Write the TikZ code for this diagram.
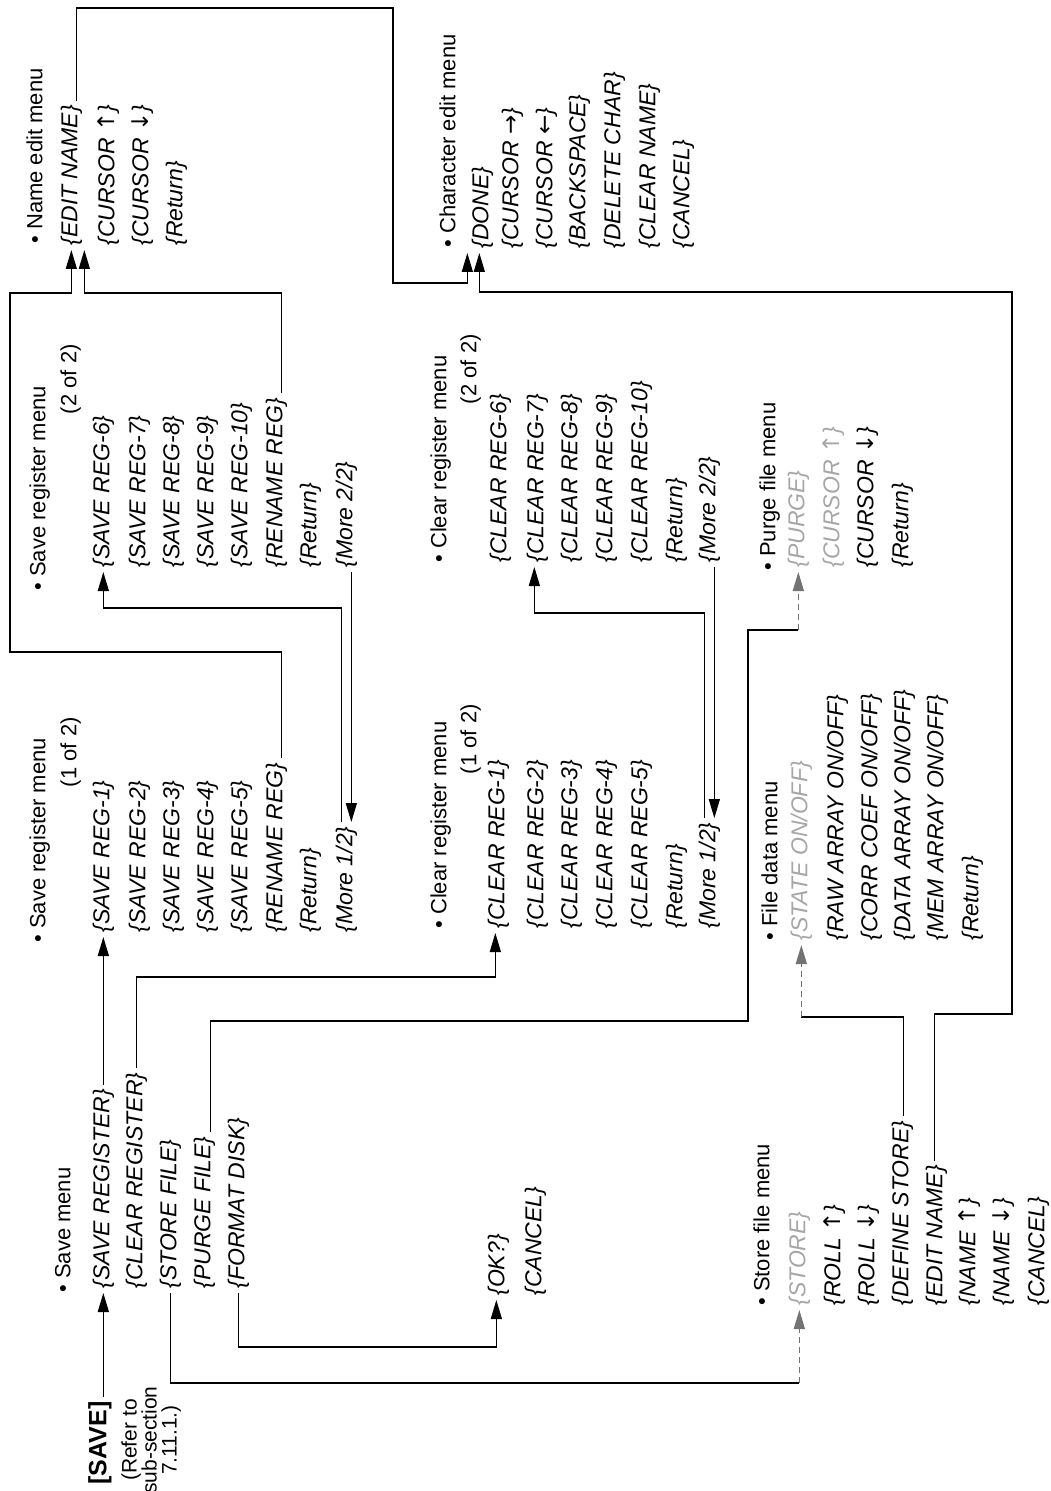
\documentclass[tikz,border=0pt]{standalone}
\usepackage{fontspec}
\setmainfont{Liberation Sans}
\newfontfamily\arrf{DejaVu Sans}
\usetikzlibrary{arrows.meta,calc}
\newcommand{\myit}{\fontsize{11.5}{13}\selectfont\itshape}
\newcommand{\mytitle}{\fontsize{11}{13}\selectfont}
\newcommand{\mykey}{\fontsize{12.5}{14}\selectfont\bfseries}
\newcommand{\myref}{\fontsize{10.5}{10}\selectfont}
\newcommand{\ua}{{\arrf\upshape ↑}}
\newcommand{\da}{{\arrf\upshape ↓}}
\newcommand{\ra}{{\arrf\upshape →}}
\newcommand{\la}{{\arrf\upshape ←}}
\begin{document}
\begin{tikzpicture}[x=0.5pt,y=-0.5pt,
  txt/.style={rotate=90, anchor=mid west, inner sep=2pt},
  ttl/.style={txt, font=\mytitle},
  itm/.style={txt, font=\myit},
  pg/.style={rotate=90, anchor=mid east, inner sep=2pt, font=\mytitle},
  fnt/.style={text=black!35},
  conn/.style={line width=0.7pt},
  arr/.style={conn, -{Triangle[length=9.5pt,width=5.5pt]}},
  farr/.style={arr, black!55, densely dashed}]
\useasboundingbox (0,0) rectangle (1050,1491);

% ---------- Save key and Save menu ----------
\node[rotate=90, inner sep=2pt, font=\mykey] (save) at (100,1443) {[SAVE]};
\node[rotate=90, anchor=north, inner sep=0pt, align=center, font=\myref] (refer) at (121,1440) {(Refer to\\sub-section\\7.11.1.)};

\node[ttl] (smt) at (65,1297) {• Save menu};
\node[itm] (sm1) at (104,1293) {\{SAVE REGISTER\}};
\node[itm] (sm2) at (137,1293) {\{CLEAR REGISTER\}};
\node[itm] (sm3) at (171,1293) {\{STORE FILE\}};
\node[itm] (sm4) at (205,1293) {\{PURGE FILE\}};
\node[itm] (sm5) at (239,1293) {\{FORMAT DISK\}};

% ---------- OK? ----------
\node[itm] (ok) at (499,1300) {\{OK?\}};
\node[itm] (okc) at (536,1300) {\{CANCEL\}};

% ---------- Store file menu ----------
\node[ttl] (sft) at (764,1310) {• Store file menu};
\node[itm,fnt] (sf1) at (800,1310) {\{STORE\}};
\node[itm] (sf2) at (835,1310) {\{ROLL \ua\}};
\node[itm] (sf3) at (869,1310) {\{ROLL \da\}};
\node[itm] (sf4) at (903,1310) {\{DEFINE STORE\}};
\node[itm] (sf5) at (937,1310) {\{EDIT NAME\}};
\node[itm] (sf6) at (970,1310) {\{NAME \ua\}};
\node[itm] (sf7) at (1004,1310) {\{NAME \da\}};
\node[itm] (sf8) at (1039,1310) {\{CANCEL\}};

% ---------- File data menu ----------
\node[ttl] (fdt) at (772,945) {• File data menu};
\node[itm,fnt] (fd1) at (802,945) {\{STATE ON/OFF\}};
\node[itm] (fd2) at (838,945) {\{RAW ARRAY ON/OFF\}};
\node[itm] (fd3) at (872,945) {\{CORR COEF ON/OFF\}};
\node[itm] (fd4) at (905,945) {\{DATA ARRAY ON/OFF\}};
\node[itm] (fd5) at (938,945) {\{MEM ARRAY ON/OFF\}};
\node[itm] (fd6) at (973,945) {\{Return\}};

% ---------- Purge file menu ----------
\node[ttl] (pft) at (770,575) {• Purge file menu};
\node[itm,fnt] (pf1) at (799,572) {\{PURGE\}};
\node[itm,fnt] (pf2) at (834,572) {\{CURSOR \ua\}};
\node[itm] (pf3) at (868,572) {\{CURSOR \da\}};
\node[itm] (pf4) at (903,572) {\{Return\}};

% ---------- Save register menu (1 of 2) ----------
\node[ttl] (s1t) at (40,947) {• Save register menu};
\node[pg] (s1p) at (71,713) {(1 of 2)};
\node[itm] (s11) at (104,937) {\{SAVE REG-1\}};
\node[itm] (s12) at (140,937) {\{SAVE REG-2\}};
\node[itm] (s13) at (174,937) {\{SAVE REG-3\}};
\node[itm] (s14) at (208,937) {\{SAVE REG-4\}};
\node[itm] (s15) at (242,937) {\{SAVE REG-5\}};
\node[itm] (s16) at (277,937) {\{RENAME REG\}};
\node[itm] (s17) at (311,937) {\{Return\}};
\node[itm] (s18) at (347,937) {\{More 1/2\}};

% ---------- Save register menu (2 of 2) ----------
\node[ttl] (s2t) at (40,595) {• Save register menu};
\node[pg] (s2p) at (71,340) {(2 of 2)};
\node[itm] (s21) at (104,572) {\{SAVE REG-6\}};
\node[itm] (s22) at (140,572) {\{SAVE REG-7\}};
\node[itm] (s23) at (174,572) {\{SAVE REG-8\}};
\node[itm] (s24) at (208,572) {\{SAVE REG-9\}};
\node[itm] (s25) at (242,572) {\{SAVE REG-10\}};
\node[itm] (s26) at (277,572) {\{RENAME REG\}};
\node[itm] (s27) at (311,572) {\{Return\}};
\node[itm] (s28) at (347,572) {\{More 2/2\}};

% ---------- Clear register menu (1 of 2) ----------
\node[ttl] (c1t) at (441,933) {• Clear register menu};
\node[pg] (c1p) at (471,700) {(1 of 2)};
\node[itm] (c11) at (499,933) {\{CLEAR REG-1\}};
\node[itm] (c12) at (538,933) {\{CLEAR REG-2\}};
\node[itm] (c13) at (572,933) {\{CLEAR REG-3\}};
\node[itm] (c14) at (607,933) {\{CLEAR REG-4\}};
\node[itm] (c15) at (642,933) {\{CLEAR REG-5\}};
\node[itm] (c16) at (677,933) {\{Return\}};
\node[itm] (c17) at (710,933) {\{More 1/2\}};

% ---------- Clear register menu (2 of 2) ----------
\node[ttl] (c2t) at (441,567) {• Clear register menu};
\node[pg] (c2p) at (471,330) {(2 of 2)};
\node[itm] (c21) at (501,567) {\{CLEAR REG-6\}};
\node[itm] (c22) at (538,567) {\{CLEAR REG-7\}};
\node[itm] (c23) at (572,567) {\{CLEAR REG-8\}};
\node[itm] (c24) at (607,567) {\{CLEAR REG-9\}};
\node[itm] (c25) at (642,567) {\{CLEAR REG-10\}};
\node[itm] (c26) at (677,567) {\{Return\}};
\node[itm] (c27) at (710,567) {\{More 2/2\}};

% ---------- Name edit menu ----------
\node[ttl] (net) at (37,248) {• Name edit menu};
\node[itm] (ne1) at (72,250) {\{EDIT NAME\}};
\node[itm] (ne2) at (109,250) {\{CURSOR \ua\}};
\node[itm] (ne3) at (143,250) {\{CURSOR \da\}};
\node[itm] (ne4) at (177,250) {\{Return\}};

% ---------- Character edit menu ----------
\node[ttl] (cet) at (450,252) {• Character edit menu};
\node[itm] (ce1) at (483,253) {\{DONE\}};
\node[itm] (ce2) at (513,253) {\{CURSOR \ra\}};
\node[itm] (ce3) at (547,253) {\{CURSOR \la\}};
\node[itm] (ce4) at (580,253) {\{BACKSPACE\}};
\node[itm] (ce5) at (615,253) {\{DELETE CHAR\}};
\node[itm] (ce6) at (650,253) {\{CLEAR NAME\}};
\node[itm] (ce7) at (684,253) {\{CANCEL\}};

% ---------- connectors ----------
\draw[arr] (sm1.west |- save.east) -- (sm1.west);
\draw[arr] (sm1.east) -- (s11.west);
\draw[arr] (sm2.east) -- (sm2.east |- 0,977) -| ($(c11.west)+(-3,0)$);
\draw[conn] (sm3.west) |- (sf1.west |- 0,1383);
\draw[farr] (sf1.west |- 0,1383) -- (sf1.west);
\draw[conn] ($(sm4.east)+(6,0)$) |- (748,1021) |- (pf1.west |- 0,630);
\draw[farr] (pf1.west |- 0,630) -- (pf1.west);
\draw[arr] (sm5.west) -- (sm5.west |- 0,1347) -| ($(ok.west)+(-2,0)$);

\draw[arr] ($(s18.east)+(-5,0)$) |- (s21.west |- 0,608) -- (s21.west);
\draw[arr] ($(s28.west)+(5,0)$) -- ($(s18.east)+(5,0)$);
\draw[arr] ($(c17.east)+(-5,0)$) |- ($(c22.west)+(-3,46)$) -- ($(c22.west)+(-3,0)$);
\draw[arr] ($(c27.west)+(5,0)$) -- ($(c17.east)+(5,0)$);

\draw[arr] ($(s16.east)+(5,0)$) |- (10,652) |- ($(ne1.west)+(0,43)$) -- (ne1.west);
\draw[arr] ($(s26.east)+(5,0)$) |- ($(ne1.west)+(13,43)$) -- ($(ne1.west)+(13,0)$);
\draw[arr] ($(ne1.east)+(5,0)$) |- (393,8) |- ($(ce1.west)+(-15,30)$) -- ($(ce1.west)+(-15,0)$);
\draw[arr] ($(sf5.east)+(-2,0)$) |- (1012,1014) |- ($(ce1.west)+(-3,39)$) -- ($(ce1.west)+(-3,0)$);
\draw[conn] ($(sf4.east)+(1,0)$) |- (fd1.west |- 0,1017);
\draw[farr] (fd1.west |- 0,1017) -- (fd1.west);
\end{tikzpicture}
\end{document}
